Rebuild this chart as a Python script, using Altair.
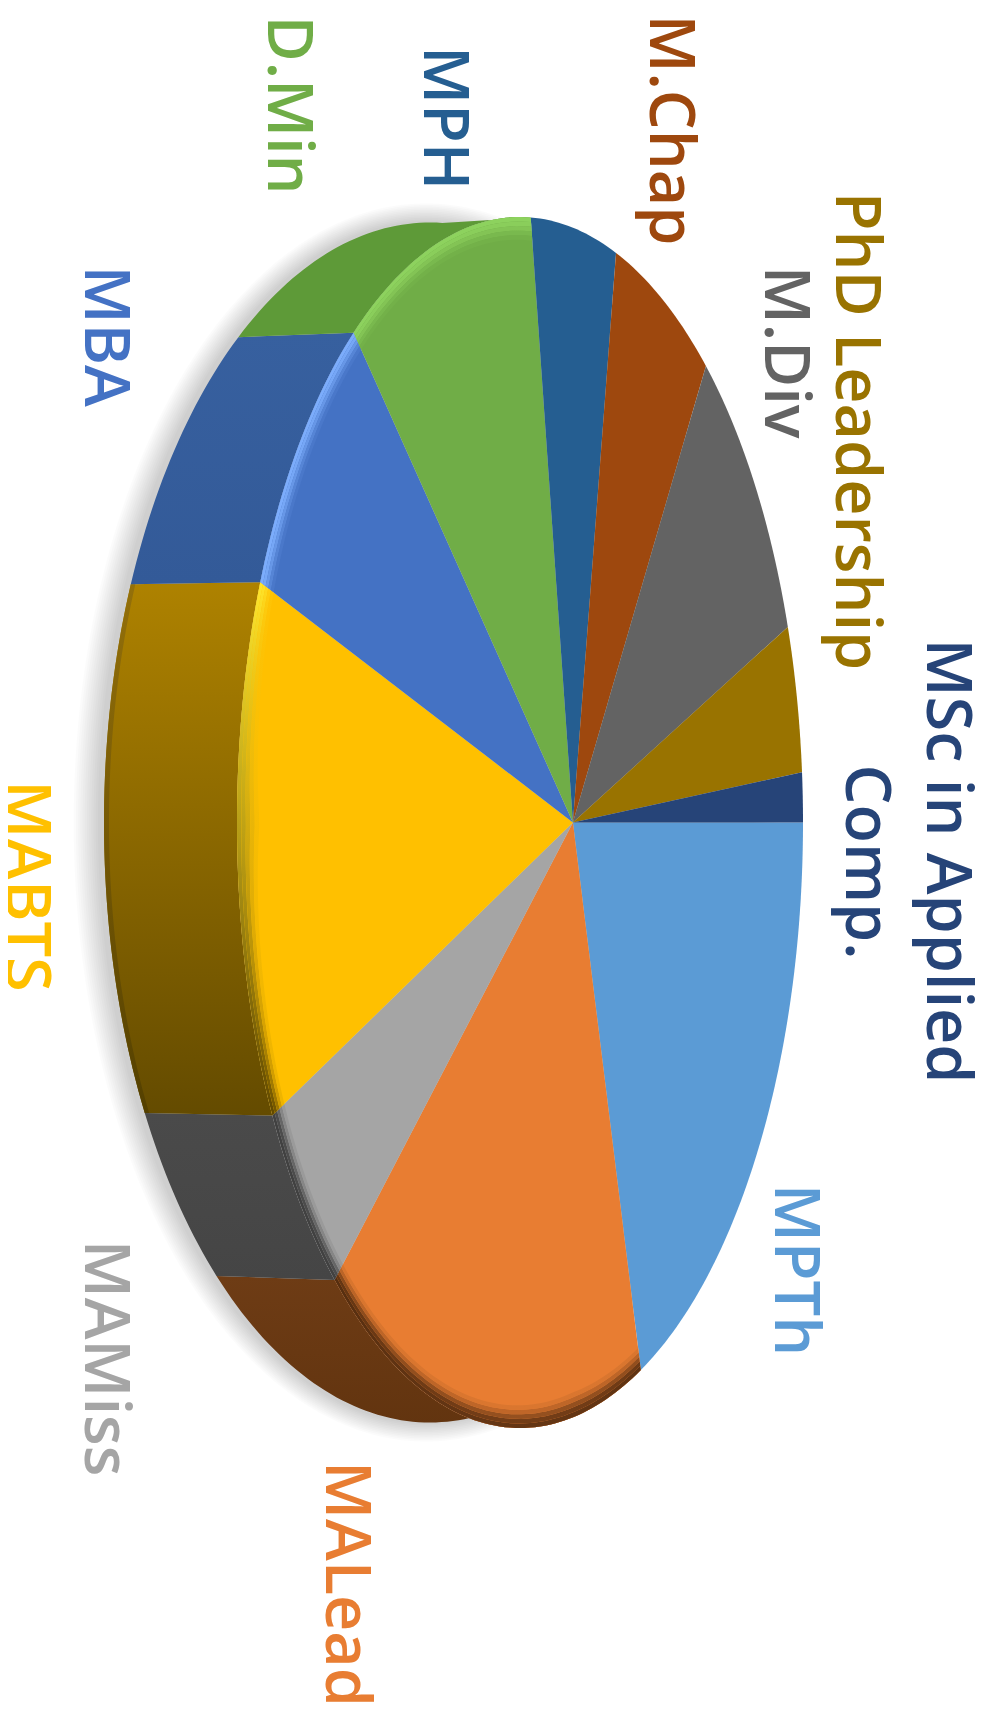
import math
import altair as alt

# Data (share of the pie, percent), clockwise from the right
CATEGORIES = ["MPTh", "MALead", "MAMiss", "MABTS", "MBA", "D.Min", "MPH", "M.Chap", "M.Div", "PhD Leadership", "MSc in Applied Comp."]
SHARES = [20.8, 17.7, 4.8, 12.1, 7.3, 9.9, 5.0, 6.4, 9.7, 4.7, 1.6]
FACE_COLORS = ["#5B9BD5", "#E87D32", "#A5A5A5", "#FFC000", "#4472C4", "#70AD47", "#255E91", "#9E480E", "#636363", "#997300", "#264478"]

# Layout and style (image pixels)
MARGIN = 8
CX, CY, RX, RY, E = 520, 822.5, 283, 605.5, 0.187
WCX, WRX, WRY = 430, 326, 600
WALLS = {
    "MALead": ["#6E3C15", "#62340F"],
    "MAMiss": ["#4A4A4A", "#454545"],
    "MABTS": ["#AE8200", "#644B00"],
    "MBA": ["#37609F", "#335A98"],
    "D.Min": ["#5E9A38", "#5E9A38"],
}
RIMS = {
    "MALead": ["#4D2A0E", "#5E3212"],
    "MAMiss": ["#3C3C3C", "#3C3C3C"],
    "MABTS": ["#FFE82E", "#5A4300"],
    "MBA": ["#7FB0FF", "#7FB0FF"],
    "D.Min": ["#8FD45F", "#8FD45F"],
}
RIM_WEIGHTS = [0.95, 0.85, 0.6, 0.3, 0.1]
RIM_STEP = 4.5
WALL_EDGE = {"MABTS": ["#94700A", "#544000"]}
LABELS = {  # baseline x, centre y
    "MPTh": (775, 1270, "#5B9BD5"),
    "MALead": (326, 1584, "#E87D32"),
    "MAMiss": (85, 1358, "#A5A5A5"),
    "MABTS": (6, 886, "#FFC000"),
    "MBA": (85, 336, "#4472C4"),
    "D.Min": (268, 105, "#70AD47"),
    "MPH": (424, 118, "#255E91"),
    "M.Chap": (650, 130, "#9E480E"),
    "M.Div": (765, 352, "#636363"),
    "PhD Leadership": (836, 431, "#997300"),
    "MSc in Applied": (927, 861, "#264478"),
    "Comp.": (846, 862, "#264478"),
}
FONT = "Open Sans"
FONT_SIZE = 63
FONT_WEIGHT = 600

APEX = (CX + RX * E, CY)


def unit(deg):
    """Angle on the true circle -> point on the perspective ellipse (unit form)."""
    a = math.radians(deg)
    u, v = math.cos(a), math.sin(a)
    d = 1 + E * u
    return (u + E) / d, v * math.sqrt(1 - E * E) / d


def arc(a0, a1, cx, rx, ry):
    n = max(2, int(abs(a1 - a0)) + 1)
    pts = []
    for i in range(n + 1):
        X, Y = unit(a0 + (a1 - a0) * i / n)
        pts.append([cx + rx * X - MARGIN, CY + ry * Y - MARGIN])
    return pts


def inset_arc(a0, a1, inset):
    """Rim arc pulled towards the pie centre along each radius."""
    pts = []
    for x, y in arc(a0, a1, CX, RX, RY):
        dx = x + MARGIN - APEX[0]
        dy = y + MARGIN - APEX[1]
        f = inset / (abs(dx) + 0.9 * abs(dy))
        pts.append([x - dx * f, y - dy * f])
    return pts


def shape(points, fill, opacity=None):
    ring = points + [points[0]]
    feature = {"type": "Feature", "properties": {}, "geometry": {"type": "Polygon", "coordinates": [ring]}}
    kw = {"fill": fill, "strokeWidth": 0}
    if opacity is not None:
        kw["fillOpacity"] = opacity
    return alt.Chart(alt.Data(values=[feature])).mark_geoshape(**kw).project(type="identity", scale=1, translate=[0, 0])


def ygrad(c0, c1):
    return alt.LinearGradient(
        gradient="linear", x1=0, x2=0, y1=0, y2=1,
        stops=[alt.GradientStop(color=c0, offset=0), alt.GradientStop(color=c1, offset=1)],
    )


def mix(a, b, w):
    ca = [int(a[i:i + 2], 16) for i in (1, 3, 5)]
    cb = [int(b[i:i + 2], 16) for i in (1, 3, 5)]
    return "#%02X%02X%02X" % tuple(round(x + (y - x) * w) for x, y in zip(ca, cb))


total = sum(SHARES)
starts, a = [], 0.0
for s in SHARES:
    starts.append((a, a + s / total * 360))
    a += s / total * 360

layers = []
# soft shadow
for k in range(1, 13):
    pts = arc(0, 360, WCX - 4, WRX + 2.2 * k, WRY + 1.6 * k)[:-1]
    layers.append(shape(pts, "#000000", 0.014))
# side wall
for name, (a0, a1) in zip(CATEGORIES, starts):
    if name in WALLS:
        c0, c1 = WALLS[name]
        layers.append(shape(arc(a0, a1, CX, RX, RY) + arc(a1, a0, WCX, WRX, WRY), ygrad(c0, c1)))
    if name in WALL_EDGE:
        c0, c1 = WALL_EDGE[name]
        layers.append(shape(arc(a0, a1, WCX, WRX - 5, WRY) + arc(a1, a0, WCX, WRX, WRY), ygrad(c0, c1)))
# top face
apex = [APEX[0] - MARGIN, APEX[1] - MARGIN]
for (a0, a1), col in zip(starts, FACE_COLORS):
    layers.append(shape([apex] + arc(a0, a1, CX, RX, RY), col))
# bevelled rim
for name, (a0, a1), col in zip(CATEGORIES, starts, FACE_COLORS):
    if name in RIMS:
        t0, t1 = RIMS[name]
        for k, w in enumerate(RIM_WEIGHTS):
            outer = inset_arc(a0, a1, k * RIM_STEP)
            inner = inset_arc(a1, a0, (k + 1) * RIM_STEP)
            layers.append(shape(outer + inner, ygrad(mix(col, t0, w), mix(col, t1, w))))
# labels
label_rows = [{"t": t, "x": v[0] - MARGIN, "y": v[1] - MARGIN, "c": v[2]} for t, v in LABELS.items()]
layers.append(
    alt.Chart(alt.Data(values=label_rows))
    .mark_text(angle=90, align="center", baseline="alphabetic", font=FONT, fontSize=FONT_SIZE, fontWeight=FONT_WEIGHT)
    .encode(
        x=alt.X("x:Q", scale=None, axis=None),
        y=alt.Y("y:Q", scale=None, axis=None),
        text="t:N",
        color=alt.Color("c:N", scale=None, legend=None),
    )
)

chart = (
    alt.layer(*layers)
    .properties(width=973, height=1708, padding=0, autosize=alt.AutoSizeParams(type="none"))
    .configure_view(stroke=None)
)
chart.save("out.html", embed_options={"renderer": "svg", "actions": False})
